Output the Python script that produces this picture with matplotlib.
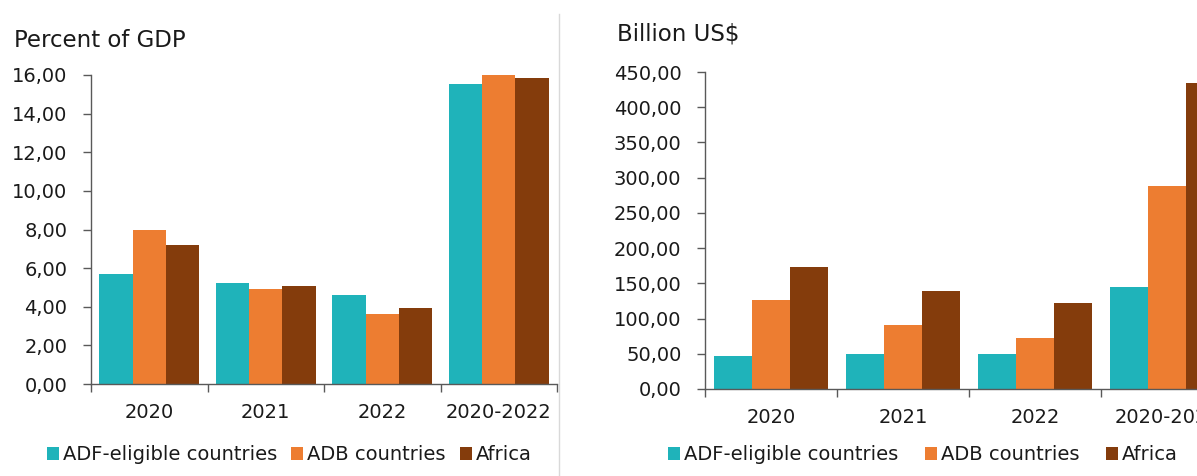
import matplotlib.pyplot as plt
from matplotlib.ticker import FuncFormatter, FixedLocator
from matplotlib.patches import Patch
import numpy as np

periods = ["2020", "2021", "2022", "2020-2022"]
series_names = ["ADF-eligible countries", "ADB countries", "Africa"]
colors = ["#1fb3ba", "#ed7d31", "#843c0c"]

# percent of GDP
gdp_adf = [5.68, 5.25, 4.60, 15.52]
gdp_adb = [7.96, 4.94, 3.65, 16.00]
gdp_africa = [7.20, 5.08, 3.96, 15.83]

# billion US$
usd_adf = [46.8, 49.5, 49.2, 144.8]
usd_adb = [126.3, 90.4, 72.9, 288.2]
usd_africa = [173.2, 139.1, 121.6, 434.4]

W, H = 1197, 476
fig = plt.figure(figsize=(W / 100, H / 100), dpi=100)
plt.rcParams['font.family'] = 'DejaVu Sans'

text_color = "#1a1a1a"
axis_color = "#595959"


def comma_fmt(v, pos):
    return "{:.2f}".format(v).replace(".", ",")


def draw_panel(rect, data, ymax, yticks):
    ax = fig.add_axes(rect)
    x = np.arange(len(periods))
    bw = 1 / 3.5
    for i, vals in enumerate(data):
        ax.bar(x + (i - 1) * bw, vals, width=bw, color=colors[i], edgecolor='none')
    ax.set_xlim(-0.5, len(periods) - 0.5)
    ax.set_ylim(0, ymax)
    ax.set_yticks(yticks)
    ax.yaxis.set_major_formatter(FuncFormatter(comma_fmt))
    ax.set_xticks(x)
    ax.set_xticklabels(periods)
    ax.xaxis.set_minor_locator(FixedLocator(np.arange(-0.5, len(periods), 1.0)))
    ax.tick_params(axis='x', which='major', length=0, pad=14, labelsize=14, colors=text_color)
    ax.tick_params(axis='x', which='minor', length=6, width=1, color=axis_color, direction='out')
    ax.tick_params(axis='y', length=6, width=1, color=axis_color, pad=11, labelsize=14,
                   labelcolor=text_color)
    for s in ["top", "right"]:
        ax.spines[s].set_visible(False)
    for s in ["left", "bottom"]:
        ax.spines[s].set_color(axis_color)
        ax.spines[s].set_linewidth(1)
    return ax


ax1 = draw_panel([91 / W, 1 - 384 / H, 466 / W, 309 / H],
                 [gdp_adf, gdp_adb, gdp_africa], 16, np.arange(0, 16.1, 2))
ax2 = draw_panel([705 / W, 1 - 389 / H, 528 / W, 317 / H],
                 [usd_adf, usd_adb, usd_africa], 450, np.arange(0, 451, 50))

fig.text(14 / W, 1 - 47 / H, "Percent of GDP", fontsize=16.5, color=text_color, va='baseline')
fig.text(617 / W, 1 - 40 / H, "Billion US$", fontsize=16.5, color=text_color, va='baseline')

# separator between the two panels
fig.add_artist(plt.Line2D([558.5 / W, 558.5 / W], [0, 1 - 14 / H], color="#d9d9d9", linewidth=1))

handles = [Patch(facecolor=c, edgecolor='none') for c in colors]
for ax, x0, spacing in [(ax1, 47, 0.75), (ax2, 668, 1.4)]:
    ax.legend(handles, series_names, loc='center left', ncol=3, frameon=False,
              bbox_to_anchor=(x0 / W, 1 - 455 / H), bbox_transform=fig.transFigure,
              fontsize=14, handlelength=0.62, handleheight=0.62, handletextpad=0.18,
              columnspacing=spacing, borderpad=0, borderaxespad=0, labelcolor=text_color)

fig.savefig("out.png", dpi=100)
